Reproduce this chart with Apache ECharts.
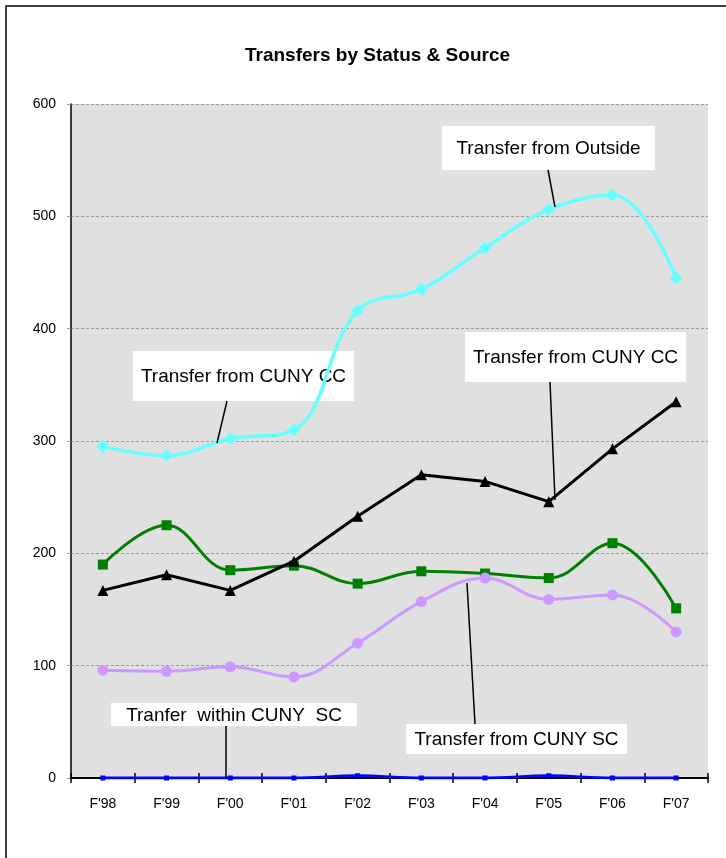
<!DOCTYPE html>
<html>
<head>
<meta charset="utf-8">
<script src="https://cdn.jsdelivr.net/npm/echarts@6/dist/echarts.min.js"></script>
<style>
  html, body { margin: 0; padding: 0; background: #fff; }
  #chart { width: 726px; height: 858px; }
</style>
</head>
<body>
<div id="chart"></div>
<script>
var years = ["F'98", "F'99", "F'00", "F'01", "F'02", "F'03", "F'04", "F'05", "F'06", "F'07"]
var fromOutside = [295, 287, 302, 310, 416, 435, 472, 506, 519, 445]
var fromCunyCC = [167, 181, 167, 193, 233, 270, 264, 246, 293, 335]
var seriesGreen = [190, 225, 185, 189, 173, 184, 182, 178, 209, 151]
var fromCunySC = [96, 95, 99, 90, 120, 157, 178, 159, 163, 130]
var withinCunySC = [0, 0, 0, 0, 2, 0, 0, 2, 0, 0]

var font = 'Liberation Sans, Arial, sans-serif'

// callout box with text
function callout(x, y, w, h, text) {
  return {
    type: 'group',
    left: x,
    top: y,
    z: 100,
    children: [
      { type: 'rect', shape: { x: 0, y: 0, width: w, height: h }, style: { fill: '#fff' } },
      {
        type: 'text',
        x: w / 2,
        y: h / 2 + 1,
        style: { text: text, fill: '#000', font: '19px ' + font, align: 'center', verticalAlign: 'middle' }
      }
    ]
  }
}
function leader(x1, y1, x2, y2) {
  return {
    type: 'line',
    z: 100,
    shape: { x1: x1, y1: y1, x2: x2, y2: y2 },
    style: { stroke: '#000', lineWidth: 1.5 }
  }
}

var chart = echarts.init(document.getElementById('chart'), null, { renderer: 'canvas' })
chart.setOption({
  animation: false,
  backgroundColor: '#fff',
  title: {
    text: 'Transfers by Status & Source',
    left: 240,
    top: 41,
    textStyle: { fontFamily: font, fontWeight: 'bold', fontSize: 19, color: '#000' }
  },
  grid: {
    left: 71,
    right: 18,
    top: 104,
    bottom: 80,
    show: true,
    backgroundColor: '#e0e0e0',
    borderWidth: 0
  },
  xAxis: [
    {
      type: 'category',
      data: years,
      boundaryGap: true,
      axisLine: { lineStyle: { color: '#000', width: 2 } },
      axisTick: { show: true, interval: 0, length: 5, lineStyle: { color: '#000', width: 1.5 } },
      axisLabel: { margin: 19, fontFamily: font, fontSize: 14, color: '#000' }
    },
    {
      type: 'category',
      data: years,
      position: 'bottom',
      boundaryGap: true,
      axisLine: { show: false },
      axisTick: { show: true, inside: true, interval: 0, length: 5, lineStyle: { color: '#000', width: 1.5 } },
      axisLabel: { show: false }
    }
  ],
  yAxis: {
    type: 'value',
    min: 0,
    max: 600,
    interval: 100,
    axisLine: { show: true, lineStyle: { color: '#000', width: 1.5 } },
    axisTick: { show: true, length: 4, lineStyle: { color: '#999' } },
    axisLabel: { margin: 15, fontFamily: font, fontSize: 14, color: '#000' },
    splitLine: { lineStyle: { color: '#999', type: [3, 2], width: 1 } }
  },
  series: [
    {
      name: 'Tranfer within CUNY SC',
      type: 'line',
      data: withinCunySC,
      smooth: 0.4,
      symbol: 'rect',
      symbolSize: 5,
      color: '#0000ff',
      lineStyle: { width: 3 },
      z: 3
    },
    {
      name: 'Green',
      type: 'line',
      data: seriesGreen,
      smooth: 0.4,
      symbol: 'rect',
      symbolSize: 10,
      color: '#008000',
      lineStyle: { width: 3 },
      z: 4
    },
    {
      name: 'Transfer from CUNY SC',
      type: 'line',
      data: fromCunySC,
      smooth: 0.4,
      symbol: 'circle',
      symbolSize: 11,
      color: '#cc99ff',
      lineStyle: { width: 3 },
      z: 5
    },
    {
      name: 'Transfer from CUNY CC',
      type: 'line',
      data: fromCunyCC,
      smooth: false,
      symbol: 'triangle',
      symbolSize: 11,
      color: '#000',
      lineStyle: { width: 3 },
      z: 6
    },
    {
      name: 'Transfer from Outside',
      type: 'line',
      data: fromOutside,
      smooth: 0.4,
      symbol: 'diamond',
      symbolSize: 13,
      color: '#66ffff',
      lineStyle: { width: 3.5 },
      z: 7
    }
  ],
  graphic: [
    {
      type: 'rect',
      z: 0,
      shape: { x: 6, y: 6, width: 800, height: 900 },
      style: { fill: 'none', stroke: '#000', lineWidth: 1.5 }
    },
    callout(442, 126, 213, 44, 'Transfer from Outside'),
    leader(548, 170, 555, 207),
    callout(133, 351, 221, 50, 'Transfer from CUNY CC'),
    leader(227, 401, 217, 443),
    callout(465, 332, 221, 50, 'Transfer from CUNY CC'),
    leader(550, 382, 555, 500),
    callout(111, 703, 246, 23, 'Tranfer  within CUNY  SC'),
    leader(226, 726, 226, 778),
    callout(406, 724, 221, 30, 'Transfer from CUNY SC'),
    leader(475, 724, 467, 583)
  ]
})
</script>
</body>
</html>
